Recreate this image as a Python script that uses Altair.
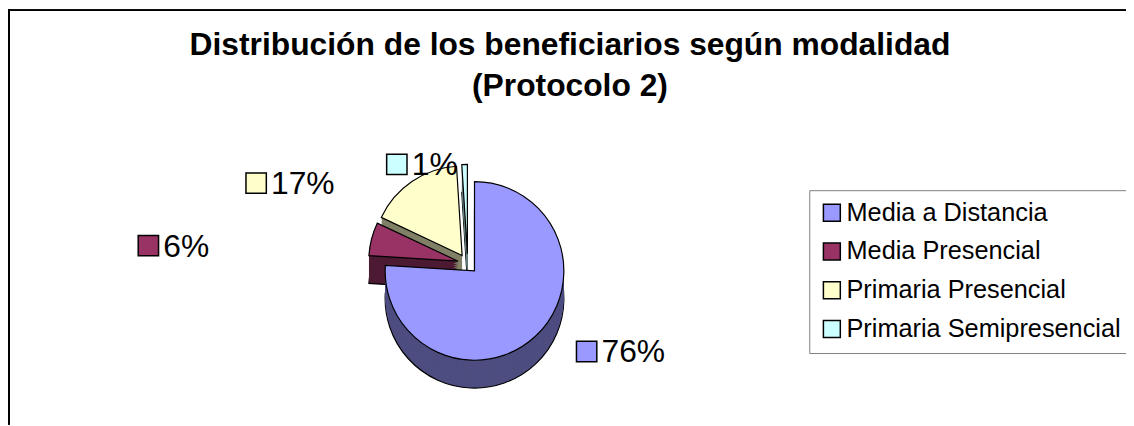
import math
import altair as alt
import pandas as pd

# ---- data -------------------------------------------------------------
CATEGORIES = ["Media a Distancia", "Media Presencial", "Primaria Presencial", "Primaria Semipresencial"]
PERCENTS = [76, 6, 17, 1]
TITLE_LINES = ["Distribución de los beneficiarios según modalidad", "(Protocolo 2)"]

# ---- style ------------------------------------------------------------
TOP_COLORS = ["#9999FF", "#993366", "#FFFFCC", "#CCFFFF"]
SIDE_COLORS = ["#4D4D80", "#4D1A33", "#808066", "#668080"]
FONT = "Liberation Sans"
W, H = 1126, 418
CX, CY, R = 463, 256, 90          # pie centre / radius (px)
EXPLODE = 10
DEPTH = 28
LCX, LCY, LRX, LRY = 400, 265, 267, 109   # label ring

df = pd.DataFrame({"cat": CATEGORIES, "value": PERCENTS, "ord": list(range(len(CATEGORIES)))})

base = (
    alt.Chart(df)
    .transform_window(cum="sum(value)", sort=[alt.SortField("ord")], frame=[None, 0])
    .transform_joinaggregate(total="sum(value)")
    .transform_calculate(
        t0="(datum.cum - datum.value) / datum.total",
        t1="datum.cum / datum.total",
    )
    .transform_calculate(mid="PI * (datum.t0 + datum.t1)")
    .transform_calculate(
        px=f"{CX} + {EXPLODE} * sin(datum.mid)",
        py=f"{CY} - {EXPLODE} * cos(datum.mid)",
        lx=f"{LCX} + {LRX} * sin(datum.mid)",
        ly=f"{LCY} - {LRY} * cos(datum.mid)",
        label="datum.value + '%'",
    )
)

theta = alt.Theta("t0:Q", scale=alt.Scale(domain=[0, 1], range=[0, 2 * math.pi]))
xpos = alt.X("px:Q", scale=None, axis=None)
ypos = alt.Y("py:Q", scale=None, axis=None)
top_scale = alt.Scale(domain=CATEGORIES, range=TOP_COLORS)
side_scale = alt.Scale(domain=CATEGORIES, range=SIDE_COLORS)

layers = []
# side walls (3D depth)
for i, d in enumerate(range(DEPTH, 0, -2)):
    kw = dict(outerRadius=R, yOffset=d)
    if i == 0:
        kw.update(stroke="black", strokeWidth=1.2)
    layers.append(
        base.mark_arc(**kw).encode(
            theta=theta, theta2="t1:Q", x=xpos, y=ypos,
            color=alt.Color("cat:N", scale=side_scale, legend=None),
            order=alt.Order("ord:Q", sort="descending"),
        )
    )

# top faces with legend
top = base.mark_arc(outerRadius=R, stroke="black", strokeWidth=1.2).encode(
    theta=theta, theta2="t1:Q", x=xpos, y=ypos,
    color=alt.Color(
        "cat:N", scale=top_scale,
        legend=alt.Legend(
            title=None, orient="none", legendX=807, legendY=182,
            direction="vertical",
            strokeColor="#808080", fillColor="white", padding=10,
            symbolType="square", symbolSize=290, symbolStrokeColor="black",
            symbolStrokeWidth=1.5, symbolOpacity=1,
            labelFont=FONT, labelFontSize=25.5, labelColor="black",
            labelOffset=2, rowPadding=12, labelLimit=400,
        ),
    ),
)
layers.append(top)

# data labels: coloured key square + percentage
lab_sq = base.mark_square(size=420, stroke="black", strokeWidth=1.5, opacity=1).encode(
    x=alt.X("lx:Q", scale=None, axis=None),
    y=alt.Y("ly:Q", scale=None, axis=None),
    color=alt.Color("cat:N", scale=top_scale, legend=None),
)
lab_tx = base.mark_text(
    align="left", baseline="alphabetic", dx=15, dy=11,
    font=FONT, fontSize=32, color="black",
).encode(
    x=alt.X("lx:Q", scale=None, axis=None),
    y=alt.Y("ly:Q", scale=None, axis=None),
    text="label:N",
)
layers += [lab_sq, lab_tx]

# title lines
tdf = pd.DataFrame({"line": TITLE_LINES, "i": [0, 1]})
title = (
    alt.Chart(tdf)
    .transform_calculate(ty="46 + 41 * datum.i")
    .mark_text(align="center", baseline="alphabetic", font=FONT, fontSize=32,
               fontWeight="bold", color="black")
    .encode(x=alt.value(566), y=alt.Y("ty:Q", scale=None, axis=None), text="line:N")
)
layers.append(title)

# chart frame (top and left edges)
frame_left = alt.Chart(df).mark_rule(color="black", strokeWidth=2).encode(
    x=alt.value(1), y=alt.value(0), y2=alt.value(H)
)
frame_top = alt.Chart(df).mark_rule(color="black", strokeWidth=1.5).encode(
    y=alt.value(0.75), x=alt.value(0), x2=alt.value(W)
)
layers += [frame_left, frame_top]

chart = (
    alt.layer(*layers)
    .resolve_scale(color="independent")
    .properties(width=W, height=H, autosize=alt.AutoSizeParams(type="none"), padding=0,
                background="white")
    .configure_view(stroke=None)
)

chart.save("out.html", embed_options={"renderer": "svg", "actions": False})
